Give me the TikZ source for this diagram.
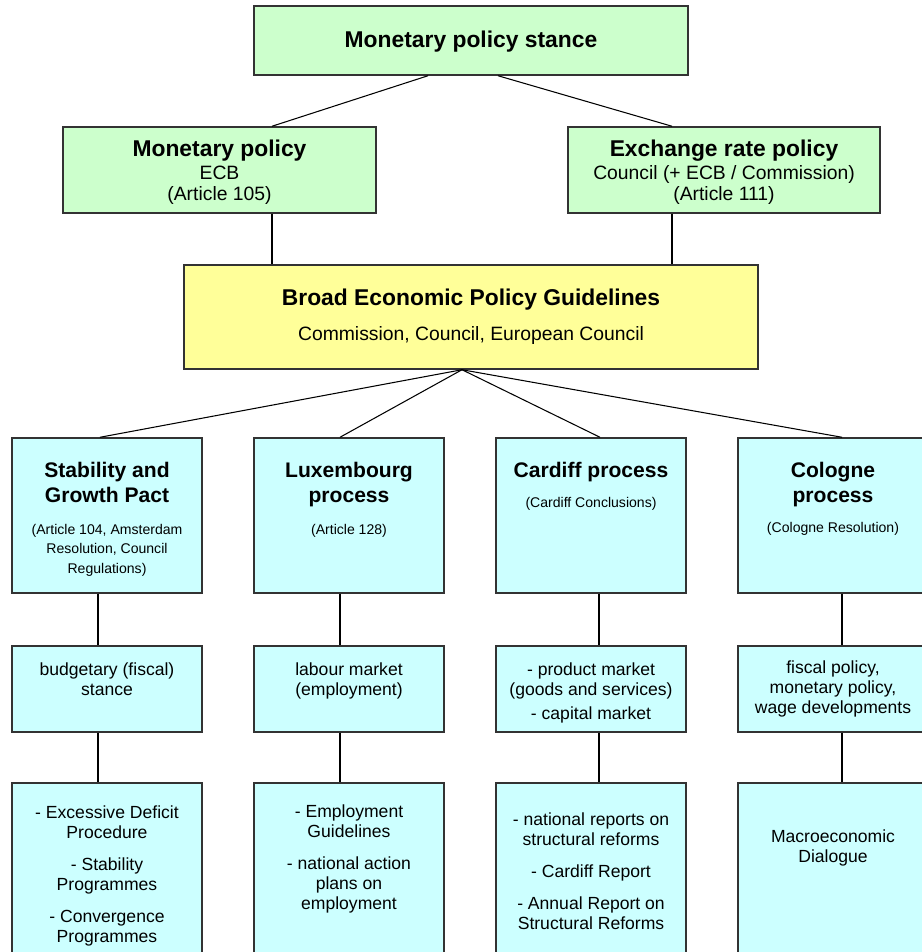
\documentclass[tikz,border=0pt]{standalone}
\usepackage{fontspec}
\setmainfont{Liberation Sans}
\usetikzlibrary{positioning, calc}
\definecolor{PolicyGreen}{HTML}{CCFFCC}
\definecolor{PolicyYellow}{HTML}{FFFF99}
\definecolor{PolicyCyan}{HTML}{CCFFFF}
\definecolor{BoxEdge}{HTML}{333333}

\tikzset{
    box/.style={draw=BoxEdge, line width=0.85pt, inner sep=0pt},
    greenbox/.style={box, fill=PolicyGreen},
    procbox/.style={box, fill=PolicyCyan, minimum width=3.8cm},
    link/.style={draw=black, line width=0.6pt},
    txt/.style={anchor=base, inner sep=0pt, align=center},
    bigtitle/.style={txt, font=\bfseries\fontsize{13}{15}\selectfont},
    subtitle/.style={txt, font=\fontsize{11}{12}\selectfont},
    coltitle/.style={txt, font=\bfseries\fontsize{12}{14.2}\selectfont},
    colnote/.style={txt, font=\fontsize{8}{11}\selectfont},
    areatext/.style={txt, font=\fontsize{10}{11.3}\selectfont},
    tooltext/.style={txt, font=\fontsize{10}{11.3}\selectfont}
}

\begin{document}
\begin{tikzpicture}[x=0.02cm, y=-0.02cm]
    \useasboundingbox (0,0) rectangle (921,952);

    % Top level (text nodes sit on the baseline of their last line)
    \node[greenbox, minimum width=8.68cm, minimum height=1.38cm] (stance) at (471,40.5) {};
    \node[bigtitle] (stancehead) at (471,48) {Monetary policy stance};

    \node[greenbox, minimum width=6.26cm, minimum height=1.72cm] (mpol) at (219.5,170) {};
    \node[bigtitle] (mpolhead) at (219.5,157) {Monetary policy};
    \node[subtitle] (mpolnote) at (219.5,201) {ECB\\(Article 105)};

    \node[greenbox, minimum width=6.24cm, minimum height=1.72cm] (erp) at (724,170) {};
    \node[bigtitle] (erphead) at (724,157) {Exchange rate policy};
    \node[subtitle] (erpnote) at (724,201) {Council (+ ECB / Commission)\\(Article 111)};

    % Guidelines
    \node[box, fill=PolicyYellow, minimum width=11.48cm, minimum height=2.08cm] (bepg) at (471,317) {};
    \node[bigtitle] (bepghead) at (471,306) {Broad Economic Policy Guidelines};
    \node[subtitle] (bepgnote) at (471,340) {Commission, Council, European Council};

    % Processes
    \node[procbox, minimum height=3.1cm] (sgp) at (107,515.5) {};
    \node[procbox, minimum height=3.1cm] (lux) at (349,515.5) {};
    \node[procbox, minimum height=3.1cm] (car) at (591,515.5) {};
    \node[procbox, minimum height=3.1cm] (col) at (833,515.5) {};

    \node[coltitle] (sgphead) at (107,502) {Stability and\\Growth Pact};
    \node[colnote] (sgpnote) at (107,573) {(Article 104, Amsterdam\\Resolution, Council\\Regulations)};
    \node[coltitle] (luxhead) at (349,502) {Luxembourg\\process};
    \node[colnote] (luxnote) at (349,534) {(Article 128)};
    \node[coltitle] (carhead) at (591,477) {Cardiff process};
    \node[colnote] (carnote) at (591,507) {(Cardiff Conclusions)};
    \node[coltitle] (colhead) at (833,502) {Cologne\\process};
    \node[colnote] (colnote) at (833,532) {(Cologne Resolution)};

    % Policy areas
    \node[procbox, minimum height=1.72cm] (sgparea) at (107,689) {};
    \node[procbox, minimum height=1.72cm] (luxarea) at (349,689) {};
    \node[procbox, minimum height=1.72cm] (cararea) at (591,689) {};
    \node[procbox, minimum height=1.72cm] (colarea) at (833,689) {};

    \node[areatext] (sgpareatext) at (107,695) {budgetary (fiscal)\\stance};
    \node[areatext] (luxareatext) at (349,695) {labour market\\(employment)};
    \node[areatext] (carareatext) at (591,719) {- product market\\(goods and services)\\[2.3pt]- capital market};
    \node[areatext] (colareatext) at (833,713) {fiscal policy,\\monetary policy,\\wage developments};

    % Instruments
    \node[procbox, minimum height=3.64cm] (sgptool) at (107,874) {};
    \node[procbox, minimum height=3.64cm] (luxtool) at (349,874) {};
    \node[procbox, minimum height=3.64cm] (cartool) at (591,874) {};
    \node[procbox, minimum height=3.64cm] (coltool) at (833,874) {};

    \node[tooltext] (sgptooltext) at (107,942) {- Excessive Deficit\\Procedure\\[6.8pt]- Stability\\Programmes\\[6.8pt]- Convergence\\Programmes};
    \node[tooltext] (luxtooltext) at (349,909) {- Employment\\Guidelines\\[6.8pt]- national action\\plans on\\employment};
    \node[tooltext] (cartooltext) at (591,929) {- national reports on\\structural reforms\\[6.8pt]- Cardiff Report\\[6.8pt]- Annual Report on\\Structural Reforms};
    \node[tooltext] (coltooltext) at (833,862) {Macroeconomic\\Dialogue};

    % Connectors
    \draw[link] ($(stance.south)+(-43,0)$) -- ($(mpol.north)+(52.5,0)$);
    \draw[link] ($(stance.south)+(27,0)$) -- ($(erp.north)+(-52,0)$);
    \draw[link] ($(mpol.south)+(52.5,0)$) coordinate (mdrop) -- (mdrop |- bepg.north);
    \draw[link] ($(erp.south)+(-52,0)$) coordinate (edrop) -- (edrop |- bepg.north);

    \foreach \p/\dx in {sgp/-7, lux/-9, car/9, col/9}
        \draw[link] ($(bepg.south)+(-9,0)$) -- ($(\p.north)+(\dx,0)$);

    \foreach \p/\dx in {sgp/-9, lux/-9, car/8, col/9} {
        \draw[link] ($(\p.south)+(\dx,0)$) coordinate (\p drop) -- (\p drop |- \p area.north);
        \draw[link] ($(\p area.south)+(\dx,0)$) coordinate (\p low) -- (\p low |- \p tool.north);
    }
\end{tikzpicture}
\end{document}
